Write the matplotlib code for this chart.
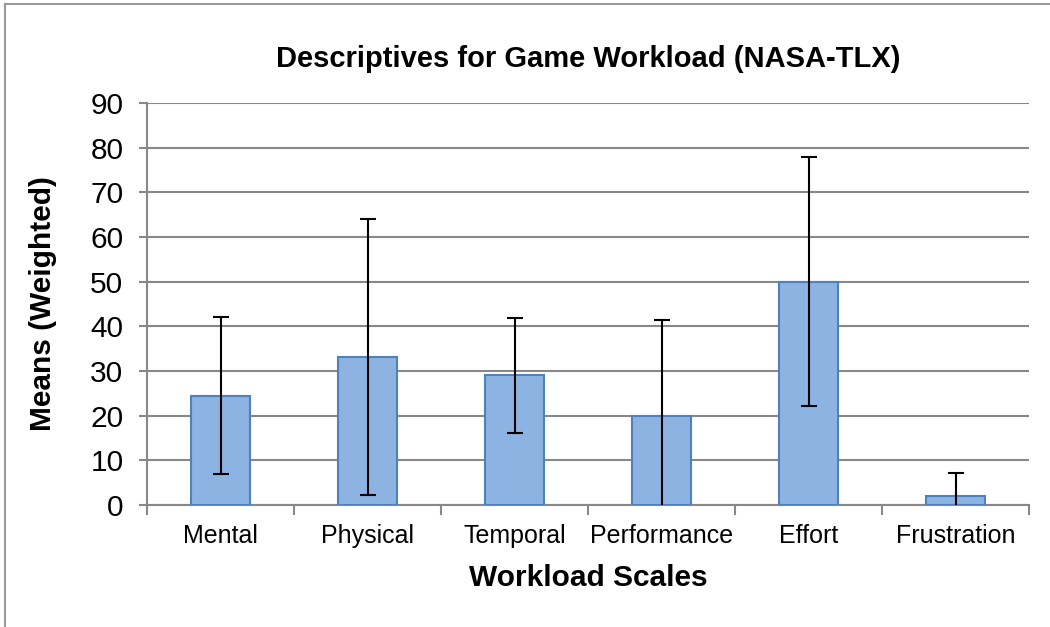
import matplotlib
matplotlib.use("Agg")
import matplotlib.pyplot as plt
from matplotlib.lines import Line2D

categories = ["Mental", "Physical", "Temporal", "Performance", "Effort", "Frustration"]
means = [24.5, 33.1, 29.0, 20.0, 50.0, 2.0]
errors = [17.5, 30.9, 12.9, 21.4, 27.9, 5.2]
yticks = [0, 10, 20, 30, 40, 50, 60, 70, 80, 90]

plt.rcParams['font.family'] = ['Liberation Sans', 'DejaVu Sans']

W, H = 1050, 627
fig = plt.figure(figsize=(W / 100, H / 100), dpi=100)
ax = fig.add_axes([147 / W, 1 - 505 / H, (1029 - 147) / W, (505 - 103) / H])

x = list(range(len(categories)))
ax.bar(x, means, width=0.4, color="#8DB3E2", edgecolor="#4F81BD", linewidth=1.5, zorder=3)
ax.errorbar(x, means, yerr=errors, fmt="none", ecolor="black", elinewidth=1.5,
            capsize=5.8, capthick=1.5, zorder=4)

ax.set_xlim(-0.5, len(categories) - 0.5)
ax.set_ylim(0, 90)
ax.set_yticks(yticks)
ax.set_yticklabels([str(t) for t in yticks], fontsize=21.5)
ax.set_xticks(x)
ax.set_xticklabels(categories, fontsize=18)
ax.tick_params(axis='x', length=0, pad=14)
ax.tick_params(axis='y', length=6, width=1.5, color="#888888", pad=11)
# category boundary ticks
ax.set_xticks([i - 0.5 for i in range(len(categories) + 1)], minor=True)
ax.tick_params(axis='x', which='minor', length=7, width=1.5, color="#888888")

ax.grid(axis='y', color="#888888", linewidth=1.5, zorder=0)
for s in ['top', 'right']:
    ax.spines[s].set_visible(False)
for s in ['left', 'bottom']:
    ax.spines[s].set_color("#888888")
    ax.spines[s].set_linewidth(1.5)

ax.set_title("Descriptives for Game Workload (NASA-TLX)", fontsize=21, fontweight='bold', pad=26)
ax.set_xlabel("Workload Scales", fontsize=21.5, fontweight='bold', labelpad=11)
ax.set_ylabel("Means (Weighted)", fontsize=21.5, fontweight='bold', labelpad=24)

# outer chart frame (partially visible)
fig.add_artist(Line2D([5 / W, 1], [1 - 4 / H, 1 - 4 / H], color="#999999", linewidth=1.5, transform=fig.transFigure))
fig.add_artist(Line2D([5 / W, 5 / W], [0, 1 - 4 / H], color="#999999", linewidth=1.5, transform=fig.transFigure))

fig.savefig("out.png", dpi=100)
